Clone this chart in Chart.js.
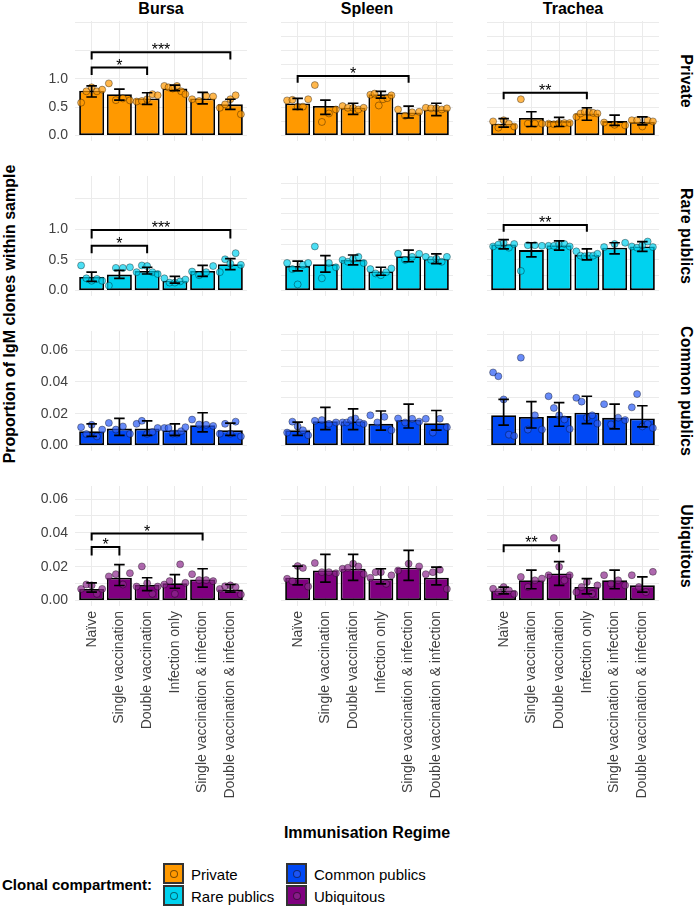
<!DOCTYPE html>
<html>
<head>
<meta charset="utf-8">
<script src="https://cdn.jsdelivr.net/npm/chart.js@4.4.1/dist/chart.umd.min.js"></script>
<style>
  body { margin: 0; background: #fff; font-family: "Liberation Sans", Arial, sans-serif; }
  #wrap { position: relative; width: 697px; height: 907px; overflow: hidden; }
  canvas { position: absolute; }
  .t { position: absolute; white-space: nowrap; color: #000; transform-origin: center; }
  .key { position: absolute; width: 17px; height: 17px; border: 2px solid #333; box-sizing: content-box; }
  .key i { position: absolute; left: 5px; top: 5px; width: 6px; height: 6px; border-radius: 50%; border: 1px solid rgba(0,0,0,0.5); }
</style>
</head>
<body>
<div id="wrap"></div>
<script>
const regimes = ['Naïve', 'Single vaccination', 'Double vaccination', 'Infection only',
  'Single vaccination & infection', 'Double vaccination & infection'];
const tissues = ['Bursa', 'Spleen', 'Trachea'];
const compartments = ['Private', 'Rare publics', 'Common publics', 'Ubiquitous'];
const compColours = ['#FF9900', '#00D2EF', '#0048F5', '#800080'];
const compPointFill = ['rgba(255,153,0,0.7)', 'rgba(0,210,239,0.7)', 'rgba(40,90,245,0.7)', 'rgba(140,40,140,0.7)'];

// --- Private (per tissue: Bursa, Spleen, Trachea) ---
const privateMeans = [
  [0.79, 0.73, 0.655, 0.83, 0.655, 0.55],
  [0.566, 0.52, 0.49, 0.73, 0.405, 0.46],
  [0.21, 0.31, 0.255, 0.39, 0.255, 0.24]
];
const privateLow = [
  [0.68, 0.625, 0.55, 0.79, 0.56, 0.46],
  [0.46, 0.375, 0.375, 0.66, 0.31, 0.35],
  [0.15, 0.16, 0.16, 0.27, 0.18, 0.19]
];
const privateHigh = [
  [0.875, 0.82, 0.755, 0.89, 0.76, 0.64],
  [0.655, 0.625, 0.57, 0.78, 0.52, 0.57],
  [0.3, 0.42, 0.32, 0.49, 0.36, 0.33]
];
const privatePoints = [
  [[0.58, 0.78, 0.85, 0.78, 0.81], [0.92, 0.625, 0.655, 0.62], [0.6, 0.61, 0.64, 0.73, 0.71],
   [0.875, 0.85, 0.83, 0.875, 0.78, 0.73], [0.64, 0.61, 0.7, 0.69], [0.49, 0.55, 0.64, 0.71, 0.375]],
  [[0.62, 0.63, 0.51, 0.51, 0.64], [0.89, 0.24, 0.39, 0.46], [0.52, 0.49, 0.49, 0.46, 0.49],
   [0.72, 0.74, 0.53, 0.64, 0.66, 0.71], [0.46, 0.35, 0.41, 0.42], [0.49, 0.48, 0.48, 0.46, 0.48]],
  [[0.25, 0.14, 0.27, 0.21, 0.16], [0.64, 0.21, 0.21, 0.21], [0.21, 0.2, 0.22, 0.22, 0.22],
   [0.33, 0.39, 0.42, 0.41, 0.4, 0.39], [0.23, 0.19, 0.18], [0.27, 0.27, 0.16, 0.27, 0.25]]
];
// [tissue, from, to, bracket y, tip y, label]
const privateSig = [[0, 0, 5, 1.47, 1.34, '***'], [0, 0, 2, 1.2, 1.07, '*'],
  [1, 0, 4, 1.05, 0.93, '*'], [2, 0, 3, 0.755, 0.64, '**']];

// --- Rare publics ---
const rareMeans = [
  [0.22, 0.26, 0.32, 0.16, 0.32, 0.43],
  [0.4, 0.43, 0.5, 0.31, 0.56, 0.52],
  [0.75, 0.66, 0.74, 0.58, 0.7, 0.72]
];
const rareLow = [
  [0.15, 0.2, 0.27, 0.12, 0.23, 0.34],
  [0.32, 0.3, 0.42, 0.25, 0.47, 0.44],
  [0.68, 0.55, 0.66, 0.5, 0.6, 0.64]
];
const rareHigh = [
  [0.3, 0.33, 0.38, 0.23, 0.41, 0.52],
  [0.48, 0.57, 0.58, 0.38, 0.66, 0.6],
  [0.83, 0.78, 0.81, 0.68, 0.78, 0.8]
];
const rarePoints = [
  [[0.41, 0.2, 0.16, 0.19, 0.16], [0.08, 0.37, 0.37, 0.38], [0.3, 0.41, 0.4, 0.3, 0.27],
   [0.2, 0.13, 0.13, 0.15, 0.18], [0.31, 0.25, 0.3, 0.4], [0.3, 0.51, 0.44, 0.61, 0.42]],
  [[0.45, 0.35, 0.1, 0.42, 0.45], [0.72, 0.2, 0.45, 0.38], [0.5, 0.47, 0.52, 0.55, 0.45],
   [0.35, 0.28, 0.25, 0.3, 0.36], [0.6, 0.5, 0.55, 0.6], [0.55, 0.5, 0.52, 0.47, 0.55]],
  [[0.72, 0.75, 0.78, 0.7, 0.76], [0.32, 0.74, 0.74, 0.73], [0.73, 0.73, 0.76, 0.76, 0.72],
   [0.64, 0.57, 0.56, 0.57, 0.57, 0.6], [0.71, 0.76, 0.78], [0.72, 0.7, 0.74, 0.8, 0.71]]
];
const rareSig = [[0, 0, 5, 0.99, 0.85, '***'], [0, 0, 2, 0.73, 0.61, '*'], [2, 0, 3, 1.07, 0.96, '**']];

// --- Common publics ---
const commonMeans = [
  [0.009, 0.0106, 0.0106, 0.0095, 0.0128, 0.0095],
  [0.0096, 0.0153, 0.0153, 0.0136, 0.016, 0.014],
  [0.019, 0.0179, 0.0185, 0.0206, 0.0174, 0.017]
];
const commonLow = [
  [0.0057, 0.0064, 0.0064, 0.0064, 0.0085, 0.0064],
  [0.0064, 0.01, 0.01, 0.0096, 0.011, 0.0096],
  [0.0128, 0.011, 0.0121, 0.0138, 0.0104, 0.0117]
];
const commonHigh = [
  [0.0136, 0.017, 0.0155, 0.0136, 0.0206, 0.014],
  [0.0147, 0.024, 0.023, 0.0217, 0.026, 0.022],
  [0.029, 0.0276, 0.027, 0.031, 0.026, 0.025]
];
const commonPoints = [
  [[0.0115, 0.0072, 0.013, 0.0057, 0.01], [0.0142, 0.01, 0.012, 0.0073], [0.0136, 0.0155, 0.0073, 0.0085, 0.011],
   [0.011, 0.011, 0.0075, 0.0075, 0.009, 0.0115], [0.0163, 0.0132, 0.013, 0.0123], [0.0074, 0.0136, 0.0074, 0.015, 0.0057]],
  [[0.0081, 0.015, 0.012, 0.0096, 0.0064], [0.0155, 0.016, 0.0136, 0.0145], [0.0145, 0.0145, 0.016, 0.017, 0.0145, 0.0136],
   [0.019, 0.0145, 0.018, 0.0096], [0.017, 0.0145, 0.0168, 0.015], [0.0168, 0.0081, 0.0168, 0.0115]],
  [[0.046, 0.0436, 0.029, 0.0068, 0.006], [0.0553, 0.01, 0.019, 0.01], [0.031, 0.0236, 0.019, 0.0164, 0.0104],
   [0.03, 0.0276, 0.0175, 0.019, 0.0138], [0.026, 0.0132, 0.0175, 0.016], [0.024, 0.0324, 0.012, 0.0136, 0.011]]
];
const commonSig = [];

// --- Ubiquitous ---
const ubiqMeans = [
  [0.0069, 0.0135, 0.0093, 0.0103, 0.0125, 0.0065],
  [0.0135, 0.0178, 0.0188, 0.0129, 0.0194, 0.0135],
  [0.006, 0.012, 0.016, 0.008, 0.012, 0.009]
];
const ubiqLow = [
  [0.005, 0.0089, 0.0059, 0.0073, 0.0079, 0.005],
  [0.0093, 0.0109, 0.0119, 0.0099, 0.0119, 0.0093],
  [0.004, 0.007, 0.009, 0.004, 0.007, 0.005]
];
const ubiqHigh = [
  [0.0105, 0.0212, 0.0135, 0.0153, 0.0188, 0.0095],
  [0.0204, 0.0273, 0.0273, 0.0188, 0.0297, 0.0198],
  [0.008, 0.018, 0.023, 0.013, 0.018, 0.014]
];
const ubiqPoints = [
  [[0.0069, 0.0095, 0.009, 0.004, 0.0069], [0.0143, 0.0156, 0.0095, 0.0162], [0.0083, 0.0202, 0.0103, 0.004, 0.0083],
   [0.0095, 0.0115, 0.004, 0.0214, 0.0105], [0.0156, 0.0121, 0.0121, 0.0115], [0.0069, 0.0085, 0.009, 0.008, 0.0036]],
  [[0.0129, 0.0115, 0.0204, 0.0193, 0.0083], [0.0222, 0.0168, 0.0168, 0.0162], [0.0188, 0.0194, 0.0218, 0.0202, 0.0156],
   [0.0135, 0.0168, 0.0168, 0.0099, 0.0149], [0.0178, 0.0218, 0.0202], [0.0156, 0.0168, 0.0182, 0.0069]],
  [[0.007, 0.005, 0.008, 0.006, 0.004], [0.014, 0.008, 0.012, 0.013], [0.015, 0.037, 0.02, 0.012, 0.015],
   [0.005, 0.008, 0.011, 0.004, 0.009], [0.015, 0.01, 0.012, 0.009], [0.015, 0.008, 0.005, 0.017]]
];
const ubiqSig = [[0, 0, 4, 0.0396, 0.0355, '*'], [0, 0, 1, 0.0317, 0.0267, '*'], [2, 0, 2, 0.0327, 0.0285, '**']];

// y axis per row: range, gridlines and labelled breaks
const rowYMin = [-0.096, -0.089, -0.0035, -0.0032];
const rowYMax = [2.02, 1.87, 0.0721, 0.0677];
const rowGrid = [
  [0, 0.25, 0.5, 0.75, 1, 1.25, 1.5, 1.75, 2],
  [0, 0.25, 0.5, 0.75, 1, 1.25, 1.5, 1.75],
  [0, 0.01, 0.02, 0.03, 0.04, 0.05, 0.06, 0.07],
  [0, 0.01, 0.02, 0.03, 0.04, 0.05, 0.06]
];
const rowBreaks = [[0, 0.5, 1], [0, 0.5, 1], [0, 0.02, 0.04, 0.06], [0, 0.02, 0.04, 0.06]];
const rowDigits = [1, 1, 2, 2];

const allMeans = [privateMeans, rareMeans, commonMeans, ubiqMeans];
const allLow = [privateLow, rareLow, commonLow, ubiqLow];
const allHigh = [privateHigh, rareHigh, commonHigh, ubiqHigh];
const allPoints = [privatePoints, rarePoints, commonPoints, ubiqPoints];
const allSig = [privateSig, rareSig, commonSig, ubiqSig];

// layout
const PW = 172, PH = 120;
const panelLeft = [75, 281, 487];
const panelTop = [21, 176, 331, 486];
const wrap = document.getElementById('wrap');

Chart.defaults.font.family = '"Liberation Sans", Arial, sans-serif';

function jitter(n, k) {
  return n === 1 ? 0 : -0.38 + 0.76 * k / (n - 1);
}

function overlay(lo, hi, sig) {
  return {
    id: 'overlay',
    afterDatasetsDraw(chart) {
      const { ctx, scales: { x, y } } = chart;
      ctx.save();
      ctx.strokeStyle = '#000';
      ctx.lineWidth = 1.7;
      lo.forEach((l, i) => {
        const xc = x.getPixelForValue(i);
        const hw = x.getPixelForValue(i + 0.19) - xc;
        const yl = y.getPixelForValue(l), yh = y.getPixelForValue(hi[i]);
        ctx.beginPath();
        ctx.moveTo(xc, yl); ctx.lineTo(xc, yh);
        ctx.moveTo(xc - hw, yl); ctx.lineTo(xc + hw, yl);
        ctx.moveTo(xc - hw, yh); ctx.lineTo(xc + hw, yh);
        ctx.stroke();
      });
      ctx.lineWidth = 2;
      ctx.fillStyle = '#000';
      ctx.font = '16px "Liberation Sans", Arial, sans-serif';
      ctx.textAlign = 'center';
      ctx.textBaseline = 'alphabetic';
      sig.forEach(([from, to, yLine, yTip, label]) => {
        const x0 = x.getPixelForValue(from), x1 = x.getPixelForValue(to);
        const yb = y.getPixelForValue(yLine), yt = y.getPixelForValue(yTip);
        ctx.beginPath();
        ctx.moveTo(x0, yt); ctx.lineTo(x0, yb); ctx.lineTo(x1, yb); ctx.lineTo(x1, yt);
        ctx.stroke();
        ctx.fillText(label, (x0 + x1) / 2, yb + 3);
      });
      ctx.restore();
    }
  };
}

function makePanel(r, c) {
  const yW = c === 0 ? 55 : 0;
  const xH = r === 3 ? 200 : 0;
  const cv = document.createElement('canvas');
  cv.width = PW + yW;
  cv.height = PH + xH;
  cv.style.left = (panelLeft[c] - yW) + 'px';
  cv.style.top = panelTop[r] + 'px';
  wrap.appendChild(cv);

  const means = allMeans[r][c];
  const pts = [];
  allPoints[r][c].forEach((vals, i) => {
    vals.forEach((v, k) => pts.push({ x: i + jitter(vals.length, k), y: v }));
  });
  const sig = allSig[r].filter(s => s[0] === c).map(s => s.slice(1));

  new Chart(cv, {
    type: 'bar',
    data: {
      datasets: [
        {
          type: 'scatter',
          data: pts,
          pointRadius: 3.5,
          backgroundColor: compPointFill[r],
          borderColor: 'rgba(0,0,0,0.45)',
          borderWidth: 0.8,
          clip: false,
          order: 1
        },
        {
          type: 'bar',
          data: means.map((m, i) => ({ x: i, y: m })),
          backgroundColor: compColours[r],
          borderColor: '#000',
          borderWidth: 1.8,
          borderSkipped: false,
          categoryPercentage: 0.9,
          barPercentage: 1,
          order: 2
        }
      ]
    },
    options: {
      responsive: false,
      animation: false,
      devicePixelRatio: 1,
      events: [],
      layout: { padding: 0, autoPadding: false },
      plugins: { legend: { display: false }, tooltip: { enabled: false } },
      scales: {
        x: {
          type: 'linear',
          min: -0.6,
          max: 5.6,
          offset: false,
          afterBuildTicks: s => { s.ticks = regimes.map((_, i) => ({ value: i })); },
          afterFit: s => { s.height = xH; s.paddingLeft = 0; s.paddingRight = 0; s.paddingTop = 0; s.paddingBottom = 0; },
          grid: { color: '#ebebeb', lineWidth: 1, drawTicks: false, offset: false },
          border: { display: false },
          ticks: {
            display: r === 3,
            autoSkip: false,
            minRotation: 90,
            maxRotation: 90,
            padding: 5,
            color: '#404040',
            font: { size: 14 },
            callback: v => regimes[v]
          }
        },
        y: {
          min: rowYMin[r],
          max: rowYMax[r],
          afterBuildTicks: s => { s.ticks = rowGrid[r].map(v => ({ value: v })); },
          afterFit: s => { s.width = yW; s.paddingLeft = 0; s.paddingRight = 0; s.paddingTop = 0; s.paddingBottom = 0; },
          grid: { color: '#ebebeb', lineWidth: 1, drawTicks: false },
          border: { display: false },
          ticks: {
            display: c === 0,
            padding: 7,
            color: '#404040',
            font: { size: 14 },
            callback: v => rowBreaks[r].some(b => Math.abs(b - v) < 1e-9) ? v.toFixed(rowDigits[r]) : ''
          }
        }
      }
    },
    plugins: [overlay(allLow[r][c], allHigh[r][c], sig)]
  });
}

for (let r = 0; r < 4; r++) {
  for (let c = 0; c < 3; c++) makePanel(r, c);
}

function addText(txt, x, y, css, rot) {
  const d = document.createElement('div');
  d.className = 't';
  d.textContent = txt;
  d.style.cssText += css;
  d.style.left = x + 'px';
  d.style.top = y + 'px';
  d.style.transform = 'translate(-50%, -50%)' + (rot ? ' rotate(' + rot + 'deg)' : '');
  wrap.appendChild(d);
  return d;
}

tissues.forEach((t, c) => addText(t, panelLeft[c] + PW / 2, 9, 'font-weight:bold;font-size:16px;'));
compartments.forEach((p, r) => addText(p, 686, panelTop[r] + PH / 2, 'font-weight:bold;font-size:16px;', 90));
addText('Proportion of IgM clones within sample', 10, (panelTop[0] + panelTop[3] + PH) / 2, 'font-weight:bold;font-size:16px;', -90);
addText('Immunisation Regime', (panelLeft[0] + panelLeft[2] + PW) / 2, 833, 'font-weight:bold;font-size:16px;');

// legend
const lt = addText('Clonal compartment:', 0, 884, 'font-weight:bold;font-size:15px;');
lt.style.transform = 'translate(0, -50%)';
lt.style.left = '2px';
const keyPos = [[163, 863], [163, 885], [286, 863], [286, 885]];
compartments.forEach((name, k) => {
  const [kx, ky] = keyPos[k];
  const b = document.createElement('div');
  b.className = 'key';
  b.style.left = kx + 'px';
  b.style.top = ky + 'px';
  b.style.background = compColours[k];
  const dot = document.createElement('i');
  dot.style.background = compPointFill[k];
  b.appendChild(dot);
  wrap.appendChild(b);
  const l = addText(name, kx + 28, ky + 11, 'font-size:15px;');
  l.style.transform = 'translate(0, -50%)';
});
</script>
</body>
</html>
